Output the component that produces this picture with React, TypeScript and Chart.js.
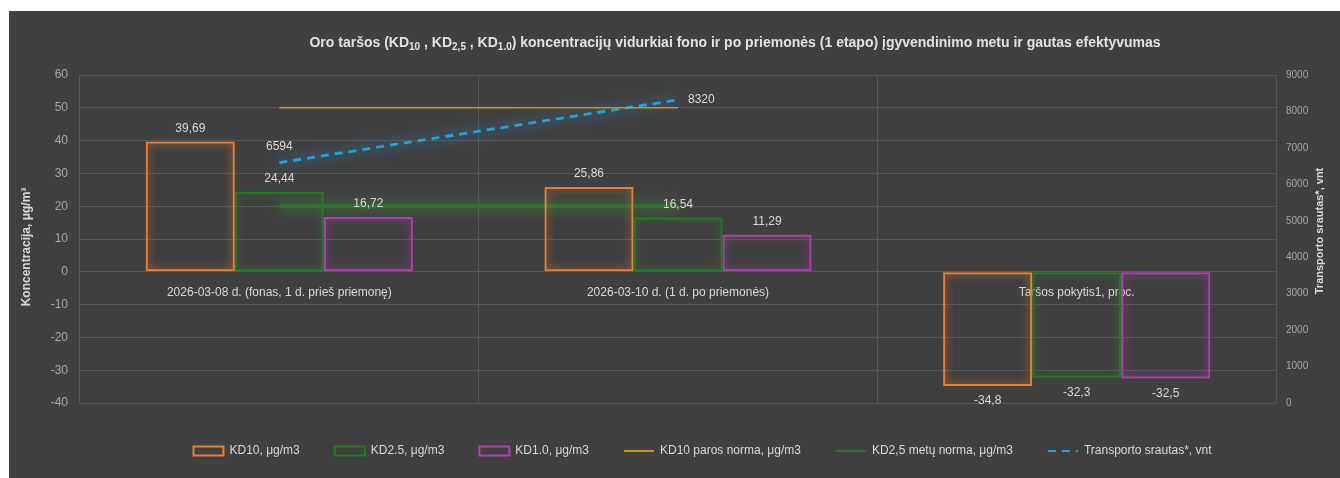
import React, { useEffect, useRef } from "react";
import { Chart, registerables } from "chart.js";

Chart.register(...registerables);

// Categories along the x axis
const categories = [
  "2026-03-08 d. (fonas, 1 d. prieš priemonę)",
  "2026-03-10 d. (1 d. po priemonės)",
  "Taršos pokytis1, proc.",
];

// Bar series (μg/m3, last category is change in %)
const kd10Values = [39.69, 25.86, -34.8];
const kd25Values = [24.44, 16.54, -32.3];
const kd1Values = [16.72, 11.29, -32.5];

// Reference norms (left axis) and traffic flow (right axis)
const kd10NormValues = [50, 50, null];
const kd25NormValues = [20, 20, null];
const transportValues = [6594, 8320, null];

// Axis ranges / tick steps
const concentrationTicks = { min: -40, max: 60, step: 10 };
const transportTicks = { min: 0, max: 9000, step: 1000 };

const seriesNames = [
  "KD10, μg/m3",
  "KD2.5, μg/m3",
  "KD1.0, μg/m3",
  "KD10 paros norma, μg/m3",
  "KD2,5 metų norma, μg/m3",
  "Transporto srautas*, vnt",
];

const leftAxisTitle = "Koncentracija, μg/m³";
const rightAxisTitle = "Transporto srautas*, vnt";

// Title pieces; "sub" parts are drawn as subscripts
const titleParts: { text: string; sub?: boolean }[] = [
  { text: "Oro taršos (KD" },
  { text: "10", sub: true },
  { text: " , KD" },
  { text: "2,5", sub: true },
  { text: " , KD" },
  { text: "1.0", sub: true },
  {
    text: ") koncentracijų vidurkiai fono ir po priemonės (1 etapo) įgyvendinimo metu ir gautas efektyvumas",
  },
];

const FONT = "'Liberation Sans', Arial, sans-serif";
const BG = "#404040";
const TEXT = "#d9d9d9";
const TICK = "#a6a6a6";
const GRID = "#575757";
const ORANGE = "#ee7d31";
const GREEN = "#1f7d22";
const MAGENTA = "#b43cb4";
const GOLD = "#d0901c";
const NORM_GREEN = "#2e742e";
const BLUE = "#1fa3e0";

const fmt = (v: number) => String(v).replace(".", ",");

const backgroundPlugin = {
  id: "bgFill",
  beforeDraw(chart: any) {
    const { ctx, width, height } = chart;
    ctx.save();
    ctx.fillStyle = BG;
    ctx.fillRect(0, 0, width, height);
    ctx.restore();
  },
};

// Soft outer glow around bars and lines
const glowPlugin = {
  id: "glow",
  beforeDatasetDraw(chart: any, args: any) {
    const ds: any = chart.data.datasets[args.index];
    const ctx = chart.ctx;
    ctx.save();
    if (ds.glowColor) {
      ctx.shadowColor = ds.glowColor;
      ctx.shadowBlur = ds.glowBlur ?? 6;
    }
  },
  afterDatasetDraw(chart: any) {
    chart.ctx.restore();
  },
};

// Value labels above/below bars and at the ends of the traffic line
const valueLabelPlugin = {
  id: "valueLabels",
  afterDatasetsDraw(chart: any) {
    const ctx = chart.ctx;
    ctx.save();
    ctx.font = `12px ${FONT}`;
    ctx.fillStyle = TEXT;
    ctx.textBaseline = "middle";
    chart.data.datasets.forEach((ds: any, di: number) => {
      const meta = chart.getDatasetMeta(di);
      if (ds.type === "bar") {
        ctx.textAlign = "center";
        meta.data.forEach((el: any, i: number) => {
          const v = ds.data[i];
          if (v == null) return;
          ctx.fillText(fmt(v), el.x, v >= 0 ? el.y - 13 : el.y + 15);
        });
      } else if (ds.showValues) {
        const idx = ds.data
          .map((v: any, i: number) => (v == null ? -1 : i))
          .filter((i: number) => i >= 0);
        idx.forEach((i: number, k: number) => {
          const el = meta.data[i];
          if (k === idx.length - 1 && idx.length > 1) {
            ctx.textAlign = "left";
            ctx.fillText(fmt(ds.data[i]), el.x + 10, el.y);
          } else {
            ctx.textAlign = "center";
            ctx.fillText(fmt(ds.data[i]), el.x, el.y - 16);
          }
        });
      }
    });
    ctx.restore();
  },
};

// Rotated axis titles (both read bottom-to-top)
const axisTitlePlugin = {
  id: "axisTitles",
  afterDraw(chart: any) {
    const { ctx, chartArea } = chart;
    const midY = (chartArea.top + chartArea.bottom) / 2;
    ctx.save();
    ctx.fillStyle = TEXT;
    ctx.font = `bold 12px ${FONT}`;
    ctx.textAlign = "center";
    ctx.textBaseline = "middle";
    ctx.translate(18, midY + 8);
    ctx.rotate(-Math.PI / 2);
    ctx.fillText(leftAxisTitle, 0, 0);
    ctx.restore();

    ctx.save();
    ctx.fillStyle = TEXT;
    ctx.font = `bold 11px ${FONT}`;
    ctx.textAlign = "center";
    ctx.textBaseline = "middle";
    ctx.translate(chart.width - 20, midY - 8);
    ctx.rotate(-Math.PI / 2);
    ctx.fillText(rightAxisTitle, 0, 0);
    ctx.restore();
  },
};

// Chart title with subscripted particle sizes
const titlePlugin = {
  id: "richTitle",
  afterDraw(chart: any) {
    const ctx = chart.ctx;
    const mainFont = `bold 14px ${FONT}`;
    const subFont = `bold 10px ${FONT}`;
    ctx.save();
    ctx.fillStyle = "#e2e2e2";
    ctx.textBaseline = "alphabetic";
    ctx.textAlign = "left";
    let total = 0;
    titleParts.forEach((p) => {
      ctx.font = p.sub ? subFont : mainFont;
      total += ctx.measureText(p.text).width;
    });
    let x = 726 - total / 2;
    const baseY = 36;
    titleParts.forEach((p) => {
      ctx.font = p.sub ? subFont : mainFont;
      ctx.fillText(p.text, x, p.sub ? baseY + 3 : baseY);
      x += ctx.measureText(p.text).width;
    });
    ctx.restore();
  },
};

const plainTick = (v: any) => String(v);

export default function App() {
  const canvasRef = useRef<HTMLCanvasElement | null>(null);

  useEffect(() => {
    if (!canvasRef.current) return;
    Chart.defaults.font.family = FONT;

    const barCommon = {
      type: "bar" as const,
      backgroundColor: "rgba(0,0,0,0)",
      borderWidth: 2,
      borderSkipped: false,
      categoryPercentage: 0.67,
      barPercentage: 1,
      xAxisID: "x",
      yAxisID: "y",
      glowBlur: 8,
    };

    const chart = new Chart(canvasRef.current, {
      type: "bar",
      data: {
        labels: categories,
        datasets: [
          { ...barCommon, label: seriesNames[0], data: kd10Values, borderColor: ORANGE, glowColor: "rgba(238,125,49,0.95)" } as any,
          { ...barCommon, label: seriesNames[1], data: kd25Values, borderColor: GREEN, glowColor: "rgba(40,140,40,0.85)" } as any,
          { ...barCommon, label: seriesNames[2], data: kd1Values, borderColor: MAGENTA, glowColor: "rgba(190,60,190,0.9)" } as any,
          {
            type: "line",
            label: seriesNames[3],
            data: kd10NormValues,
            borderColor: GOLD,
            borderWidth: 1.5,
            pointRadius: 0,
            xAxisID: "x",
            yAxisID: "y",
          } as any,
          {
            type: "line",
            label: seriesNames[4],
            data: kd25NormValues,
            borderColor: NORM_GREEN,
            borderWidth: 4,
            pointRadius: 0,
            xAxisID: "x",
            yAxisID: "y",
            glowColor: "rgba(60,150,60,0.95)",
            glowBlur: 14,
          } as any,
          {
            type: "line",
            label: seriesNames[5],
            data: transportValues,
            borderColor: BLUE,
            borderWidth: 2.8,
            borderDash: [8, 6],
            pointRadius: 0,
            xAxisID: "x",
            yAxisID: "y1",
            glowColor: "rgba(40,170,240,1)",
            glowBlur: 14,
            showValues: true,
          } as any,
        ],
      },
      options: {
        responsive: false,
        animation: false,
        events: [],
        layout: { padding: { left: 0, right: -56, top: 64, bottom: 11 } },
        scales: {
          x: {
            type: "category",
            position: { y: 0 } as any,
            offset: true,
            grid: { display: true, color: GRID, drawTicks: false, offset: true },
            border: { display: false },
            ticks: {
              color: TEXT,
              font: { size: 12 },
              padding: 14,
              maxRotation: 0,
              autoSkip: false,
            },
          },
          xb: {
            type: "category",
            position: "bottom",
            display: true,
            grid: { display: false, drawTicks: false },
            border: { display: false },
            ticks: { display: false },
            afterFit: (s: any) => {
              s.height = 7;
            },
          },
          y: {
            position: "left",
            min: concentrationTicks.min,
            max: concentrationTicks.max,
            ticks: {
              stepSize: concentrationTicks.step,
              color: TICK,
              font: { size: 12 },
              padding: 12,
              callback: plainTick,
            },
            grid: { color: GRID, drawTicks: false },
            border: { display: false },
            afterFit: (s: any) => {
              s.width = 71;
            },
          },
          y1: {
            position: "right",
            min: transportTicks.min,
            max: transportTicks.max,
            ticks: {
              stepSize: transportTicks.step,
              color: TICK,
              font: { size: 10 },
              padding: 10,
              callback: plainTick,
            },
            grid: { display: false, drawTicks: false },
            border: { display: false },
            afterFit: (s: any) => {
              s.width = 120;
            },
          },
        } as any,
        plugins: {
          title: { display: false },
          tooltip: { enabled: false },
          legend: {
            display: true,
            position: "bottom",
            labels: {
              usePointStyle: true,
              pointStyleWidth: 30,
              boxHeight: 9,
              padding: 35,
              color: TEXT,
              font: { size: 12 },
              generateLabels: (c: any) =>
                c.data.datasets.map((ds: any, i: number) => ({
                  text: ds.label,
                  fillStyle: "rgba(0,0,0,0)",
                  strokeStyle: ds.borderColor,
                  lineWidth: 2,
                  lineDash: ds.borderDash || [],
                  pointStyle: ds.type === "bar" ? "rect" : "line",
                  fontColor: TEXT,
                  hidden: false,
                  datasetIndex: i,
                })),
            },
          },
        },
      },
      plugins: [backgroundPlugin, glowPlugin, valueLabelPlugin, axisTitlePlugin, titlePlugin],
    });

    return () => chart.destroy();
  }, []);

  return (
    <div
      style={{
        position: "absolute",
        left: 9,
        top: 11,
        width: 1331,
        height: 467,
        background: BG,
      }}
    >
      <canvas ref={canvasRef} width={1331} height={467} style={{ display: "block" }} />
    </div>
  );
}
